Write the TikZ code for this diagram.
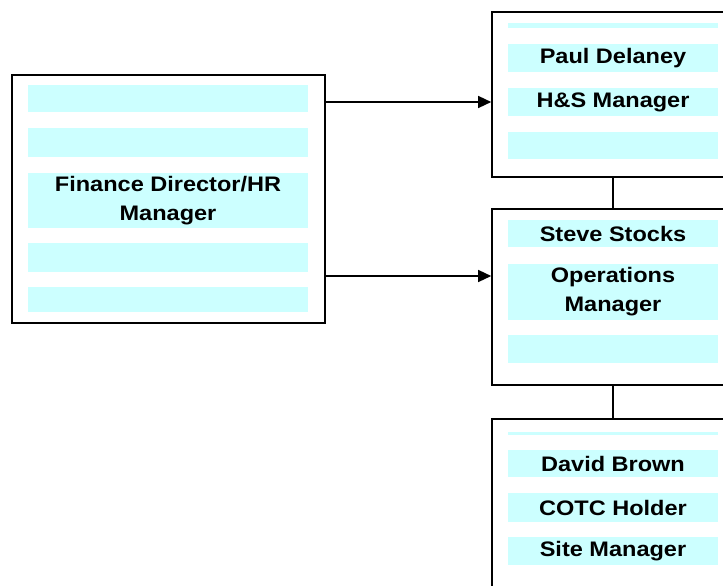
\documentclass[tikz,border=0pt]{standalone}
\usepackage{fontspec}
\setmainfont[FakeStretch=1.12]{Liberation Sans}
\usetikzlibrary{arrows.meta}
\definecolor{stripecol}{HTML}{CCFFFF}
\tikzset{
  box/.style={draw=black, line width=1.6pt, fill=white, inner sep=0pt},
  stripe/.style={fill=stripecol, inner sep=0pt, align=center,
    font=\fontsize{21}{29}\selectfont\bfseries},
  lstripe/.style={stripe, minimum width=280pt},
  rstripe/.style={stripe, minimum width=210pt},
  conn/.style={line width=1.4pt, draw=black},
  arr/.style={conn, -{Triangle[length=13pt,width=12pt]}}
}
\begin{document}
\begin{tikzpicture}[x=1pt,y=-1pt]
\useasboundingbox (0,0) rectangle (723,586);
\clip (0,0) rectangle (723,586);
% boxes
\node[box, minimum width=313pt, minimum height=248pt] (fd) at (168.5,199) {};
\node[box, minimum width=242pt, minimum height=165pt] (hs) at (613,94.5) {};
\node[box, minimum width=242pt, minimum height=176pt] (op) at (613,297) {};
\node[box, minimum width=242pt, minimum height=200pt] (sm) at (613,519) {};
% left stripes
\node[lstripe, minimum height=27pt] (l1) at (168,98.5) {};
\node[lstripe, minimum height=29pt] (l2) at (168,142.5) {};
\node[lstripe, minimum height=55pt] (l3) at (168,200.5) {Finance Director/HR\\Manager};
\node[lstripe, minimum height=29pt] (l4) at (168,257.5) {};
\node[lstripe, minimum height=25pt] (l5) at (168,299.5) {};
% top right stripes
\node[rstripe, minimum height=5pt] (h1) at (613,25.5) {};
\node[rstripe, minimum height=28pt] (h2) at (613,58) {Paul Delaney};
\node[rstripe, minimum height=28pt] (h3) at (613,102) {H\&S Manager};
\node[rstripe, minimum height=27pt] (h4) at (613,145.5) {};
% middle stripes
\node[rstripe, minimum height=27pt] (o1) at (613,233.5) {Steve Stocks};
\node[rstripe, minimum height=56pt] (o2) at (613,292) {Operations\\Manager};
\node[rstripe, minimum height=28pt] (o3) at (613,349) {};
% bottom stripes
\node[rstripe, minimum height=3pt] (s1) at (613,433.5) {};
\node[rstripe, minimum height=27pt] (s2) at (613,463.5) {David Brown};
\node[rstripe, minimum height=29pt] (s3) at (613,507.5) {COTC Holder};
\node[rstripe, minimum height=28pt] (s4) at (613,551) {Site Manager};
% connectors
\draw[arr] (fd.east |- 0,102) -- (hs.west |- 0,102);
\draw[arr] (fd.east |- 0,276) -- (op.west |- 0,276);
\draw[conn] (hs.south) -- (op.north);
\draw[conn] (op.south) -- (sm.north);
\end{tikzpicture}
\end{document}
